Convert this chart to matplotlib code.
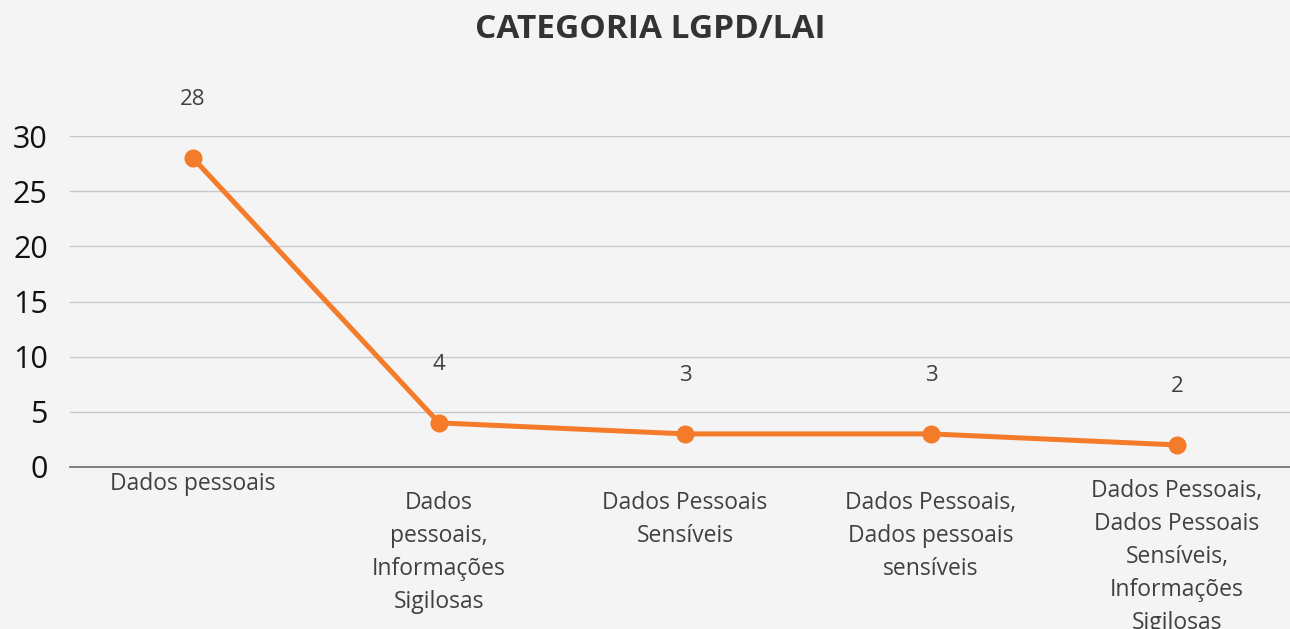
import matplotlib
matplotlib.use("Agg")
import matplotlib.pyplot as plt

plt.rcParams["font.family"] = ["Open Sans", "DejaVu Sans"]

# data
categories = [
    "Dados pessoais",
    "Dados\npessoais,\nInformações\nSigilosas",
    "Dados Pessoais\nSensíveis",
    "Dados Pessoais,\nDados pessoais\nsensíveis",
    "Dados Pessoais,\nDados Pessoais\nSensíveis,\nInformações\nSigilosas",
]
counts = [28, 4, 3, 3, 2]
yticks = [0, 5, 10, 15, 20, 25, 30]

# per-label top offset below the axis (points), mimics the Excel layout
label_offsets = [-3.5, -17, -17, -17, -8.5]

bg = "#f4f4f4"
orange = "#f47b2a"

fig = plt.figure(figsize=(12.9, 6.29), dpi=100, facecolor=bg)
ax = fig.add_axes([70 / 1290, 162 / 629, 1230 / 1290, 331 / 629], facecolor=bg)

x = list(range(len(categories)))
ax.plot(x, counts, color=orange, lw=3.6, marker="o", ms=12,
        solid_capstyle="round", zorder=3, clip_on=False)

for xi, v in zip(x, counts):
    ax.annotate(str(v), (xi, v), xytext=(0, 42), textcoords="offset points",
                ha="center", va="center", fontsize=16, color="#404040")

ax.set_xlim(-0.5, len(categories) - 0.5)
ax.set_ylim(0, 30)
ax.set_yticks(yticks)
ax.set_yticklabels([str(t) for t in yticks], fontsize=22, color="#111111")
ax.tick_params(axis="y", length=0, pad=16)
ax.set_xticks([])
ax.grid(axis="y", color="#c8c8c8", lw=1)
ax.set_axisbelow(True)
for s in ["top", "right", "left"]:
    ax.spines[s].set_visible(False)
ax.spines["bottom"].set_color("#6a6a6a")
ax.spines["bottom"].set_linewidth(1.2)

for xi, lab, off in zip(x, categories, label_offsets):
    ax.annotate(lab, (xi, 0), xycoords=("data", "axes fraction"),
                xytext=(0, off), textcoords="offset points",
                ha="center", va="top", fontsize=16.5, color="#404040",
                linespacing=1.5, annotation_clip=False)

fig.text(650 / 1290, 1 - 30 / 629, "CATEGORIA LGPD/LAI", ha="center", va="center",
         fontsize=24, fontweight="bold", color="#333333")

fig.savefig("out.png", dpi=100, facecolor=bg)
